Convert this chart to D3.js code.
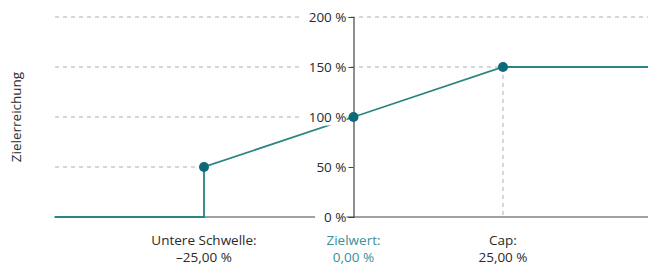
<!DOCTYPE html>
<html><head><meta charset="utf-8">
<script src="https://cdn.jsdelivr.net/npm/d3@7"></script>
<style>body{margin:0;background:#fff}svg{display:block}text{font-family:"Open Sans","Noto Sans",sans-serif}</style>
</head><body><svg id="c" width="648" height="266"></svg>
<script>
const yTicks = [0, 50, 100, 150, 200];
const yTickLabels = ["0 %", "50 %", "100 %", "150 %", "200 %"];
const curveX = [-50, -25, -25, 0, 25, 50];
const curveY = [0, 0, 50, 100, 150, 150];
const keyX = [-25, 0, 25];
const keyY = [50, 100, 150];
const keyNames = ["Untere Schwelle:", "Zielwert:", "Cap:"];
const keyValues = ["\u201325,00 %", "0,00 %", "25,00 %"];
const yTitle = "Zielerreichung";

const svg = d3.select("#c");
const x = d3.scaleLinear().domain([-25, 25]).range([204, 503]);
const y = d3.scaleLinear().domain([0, 200]).range([217, 17]);
const left = 55, right = 648;
const teal = "#2b8585", dot = "#0d6a78", grid = "#b0b0b0", axisC = "#444", txt = "#2a2a2a";

const dash = "4,4";
const g = svg.append("g");
g.append("line").attr("x1", left).attr("x2", right).attr("y1", y(200)).attr("y2", y(200));
keyX.forEach((k, i) => {
  g.append("line").attr("x1", left).attr("x2", x(k)).attr("y1", y(keyY[i])).attr("y2", y(keyY[i]));
  if (k !== 0) g.append("line").attr("x1", x(k)).attr("x2", x(k)).attr("y1", y(keyY[i])).attr("y2", y(0));
});
g.selectAll("line").attr("stroke", grid).attr("stroke-dasharray", dash).attr("stroke-width", 1);

svg.append("line").attr("x1", left).attr("x2", right).attr("y1", y(0)).attr("y2", y(0))
  .attr("stroke", axisC).attr("stroke-width", 1.2);

const line = d3.line().x((d, i) => x(curveX[i])).y((d, i) => y(curveY[i]));
svg.append("path").datum(curveX).attr("d", line).attr("fill", "none")
  .attr("stroke", teal).attr("stroke-width", 1.8);

const yAxisG = svg.append("g").attr("transform", `translate(${x(0)},0)`);
const yAxis = d3.axisLeft(y).tickValues(yTicks).tickFormat((d, i) => yTickLabels[i]).tickSize(5).tickPadding(2);
yAxisG.call(yAxis);
yAxisG.select(".domain").attr("stroke", axisC).attr("stroke-width", 1.2);
yAxisG.selectAll(".tick line").attr("stroke", axisC);
yAxisG.selectAll(".tick text").attr("font-size", 13.5).attr("fill", txt).attr("font-family", '"Open Sans",sans-serif');
yAxisG.selectAll(".tick").each(function () {
  const t = d3.select(this).select("text");
  const bb = t.node().getBBox();
  d3.select(this).insert("rect", "line").attr("x", bb.x - 9).attr("y", -8).attr("width", bb.width + 9).attr("height", 16).attr("fill", "#fff");
});

svg.selectAll("circle.k").data(keyX).enter().append("circle")
  .attr("cx", d => x(d)).attr("cy", (d, i) => y(keyY[i])).attr("r", 5).attr("fill", dot);

keyX.forEach((k, i) => {
  const col = k === 0 ? "#3a8f99" : txt;
  svg.append("text").attr("x", x(k)).attr("y", 245).attr("text-anchor", "middle")
    .attr("font-size", 13.5).attr("fill", col).text(keyNames[i]);
  svg.append("text").attr("x", x(k)).attr("y", 262).attr("text-anchor", "middle")
    .attr("font-size", 13.5).attr("fill", col).text(keyValues[i]);
});

svg.append("text").attr("transform", `translate(21,${y(100)}) rotate(-90)`)
  .attr("text-anchor", "middle").attr("font-size", 13.5).attr("fill", txt).text(yTitle);
</script></body></html>
